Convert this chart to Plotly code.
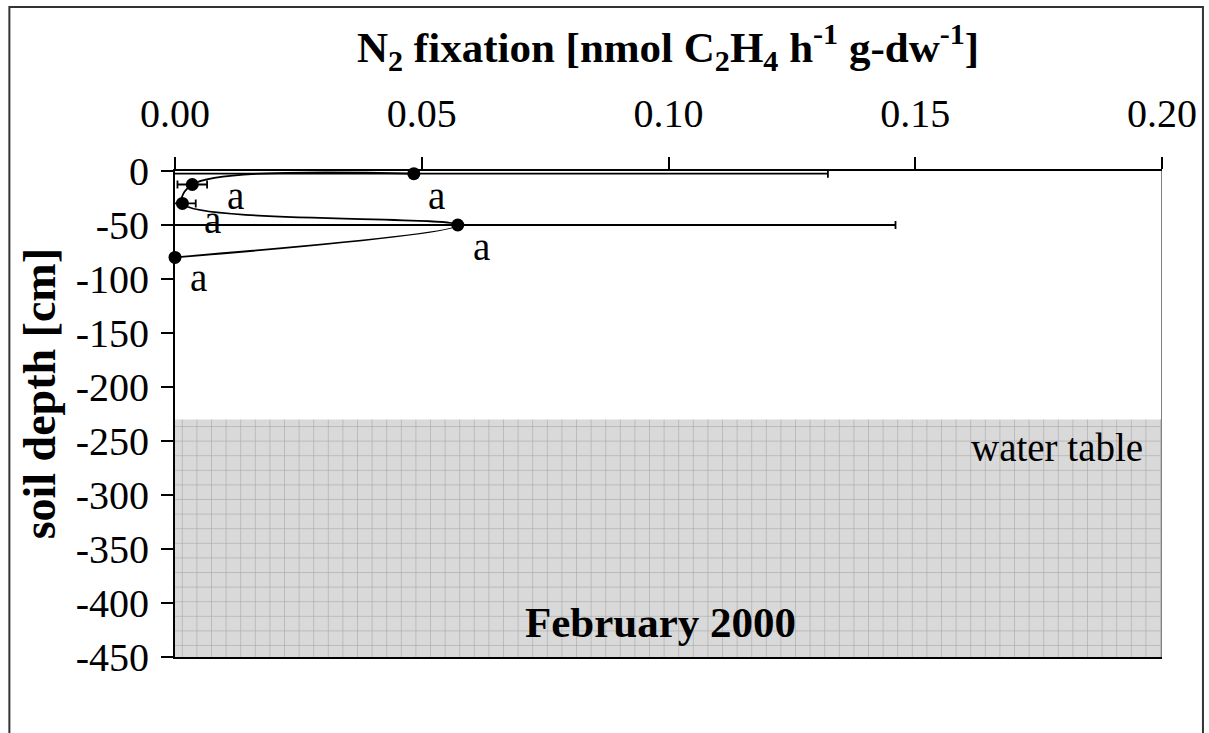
import plotly.graph_objects as go

# N2 fixation profile, February 2000
depth_cm = [-2.5, -12.5, -30, -50, -80]
n2_fixation = [0.0484, 0.0035, 0.0015, 0.0573, 0.0]
n2_error = [0.0839, 0.0030, 0.0027, 0.0887, 0.0]
sig_letters = ["a", "a", "a", "a", "a"]

water_table_depth = -230
depth_bottom = -450
x_max = 0.20
x_ticks = [0.00, 0.05, 0.10, 0.15, 0.20]
y_ticks = list(range(0, -451, -50))

SERIF = "Liberation Serif, Times New Roman, serif"
TICK_SIZE = 40
LETTER_SIZE = 39
BOLD_SIZE = 43

fig = go.Figure()

# shaded water-table zone with a fine grid texture
fig.add_trace(go.Scatter(
    x=[0, x_max, x_max, 0, 0],
    y=[water_table_depth, water_table_depth, depth_bottom, depth_bottom, water_table_depth],
    mode="lines", fill="toself",
    line=dict(width=0, color="rgba(0,0,0,0)"),
    fillcolor="#d9d9d9",
    fillpattern=dict(shape="+", size=14.6, solidity=0.08,
                     bgcolor="#d9d9d9", fgcolor="#a8a8a8", fillmode="replace"),
    hoverinfo="skip", showlegend=False,
))

# smoothed profile line with horizontal error bars
fig.add_trace(go.Scatter(
    x=n2_fixation, y=depth_cm, mode="lines",
    line=dict(color="black", width=1.8, shape="spline", smoothing=1),
    error_x=dict(type="data", array=n2_error, symmetric=True,
                 color="black", thickness=1.8, width=4),
    cliponaxis=True, showlegend=False,
))

# sample points
fig.add_trace(go.Scatter(
    x=n2_fixation, y=depth_cm, mode="markers",
    marker=dict(color="black", size=13),
    cliponaxis=False, showlegend=False,
))

# significance letters next to each point
letter_shift = [(23, -22), (43, -11), (30, -16), (24, -21), (23, -20)]
for xv, yv, txt, (dx, dy) in zip(n2_fixation, depth_cm, sig_letters, letter_shift):
    fig.add_annotation(x=xv, y=yv, text=txt, showarrow=False,
                       xshift=dx, yshift=dy, xanchor="center", yanchor="middle",
                       font=dict(family=SERIF, size=LETTER_SIZE, color="black"))

# right border of the plotting frame
fig.add_shape(type="line", xref="x", yref="y", x0=x_max, x1=x_max,
              y0=0, y1=depth_bottom, line=dict(color="#808080", width=2))

# outer frame around the whole chart
fig.add_shape(type="rect", xref="paper", yref="paper",
              x0=-0.1678, x1=1.0415, y0=-0.2, y1=1.3374,
              line=dict(color="#333333", width=2), fillcolor="rgba(0,0,0,0)",
              layer="below")

fig.add_annotation(
    xref="paper", yref="paper", x=0.4995, y=1.255,
    text="<b>N<sub>2</sub> fixation [nmol C<sub>2</sub>H<sub>4</sub> h<sup>-1</sup> g-dw<sup>-1</sup>]</b>",
    showarrow=False, xanchor="center", yanchor="middle",
    font=dict(family=SERIF, size=BOLD_SIZE, color="black"))

fig.add_annotation(
    xref="paper", yref="paper", x=-0.1375, y=0.541,
    text="<b>soil depth [cm]</b>", textangle=-90,
    showarrow=False, xanchor="center", yanchor="middle",
    font=dict(family=SERIF, size=46, color="black"))

fig.add_annotation(
    xref="paper", yref="paper", x=0.4914, y=0.072,
    text="<b>February 2000</b>",
    showarrow=False, xanchor="center", yanchor="middle",
    font=dict(family=SERIF, size=BOLD_SIZE, color="black"))

fig.add_annotation(
    xref="paper", yref="paper", x=0.983, y=0.432,
    text="water table",
    showarrow=False, xanchor="right", yanchor="middle",
    font=dict(family=SERIF, size=LETTER_SIZE, color="black"))

fig.update_xaxes(
    side="top", range=[0, x_max], tickvals=x_ticks,
    ticktext=[f"{v:.2f}" for v in x_ticks],
    ticks="outside", ticklen=12, tickwidth=1.5, tickcolor="black",
    ticklabelstandoff=14,
    showline=True, linecolor="black", linewidth=2, mirror=True,
    showgrid=False, zeroline=False,
    tickfont=dict(family=SERIF, size=TICK_SIZE, color="black"),
)
fig.update_yaxes(
    range=[depth_bottom, 0], tickvals=y_ticks,
    ticktext=[str(v) for v in y_ticks],
    ticks="outside", ticklen=12, tickwidth=1.5, tickcolor="black",
    ticklabelstandoff=4,
    showline=True, linecolor="black", linewidth=2,
    showgrid=False, zeroline=False,
    tickfont=dict(family=SERIF, size=TICK_SIZE, color="black"),
)

fig.update_layout(
    width=1209, height=733,
    margin=dict(l=175, r=45, t=171, b=76),
    paper_bgcolor="white", plot_bgcolor="white",
    showlegend=False,
)

fig.write_html("out.html")
